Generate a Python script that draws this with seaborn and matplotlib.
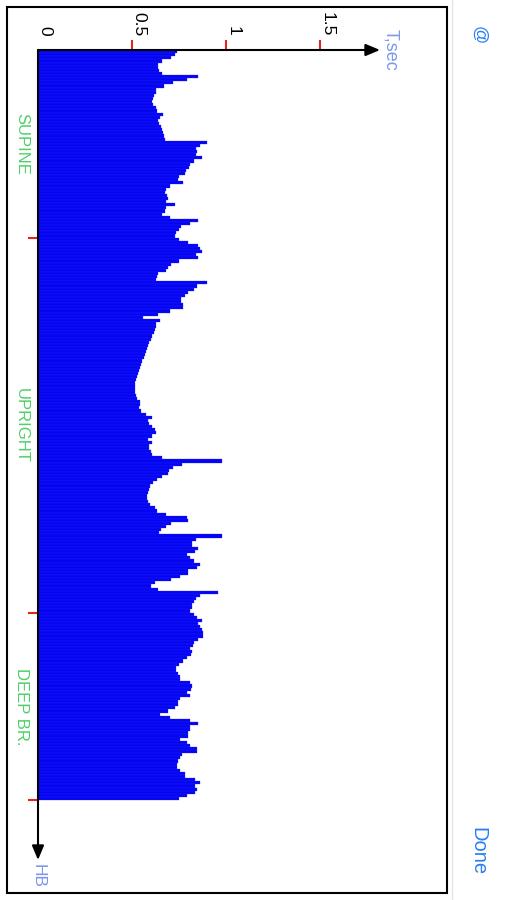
import numpy as np
import pandas as pd
import matplotlib
matplotlib.use("Agg")
import matplotlib.pyplot as plt
from matplotlib.patches import Rectangle
from matplotlib.lines import Line2D
import seaborn as sns

# RR intervals (sec) per heart beat
supine = [0.74, 0.73, 0.71, 0.66, 0.64, 0.64, 0.645, 0.66,
          0.85, 0.79, 0.72, 0.67, 0.63, 0.625, 0.615, 0.61,
          0.605, 0.61, 0.625, 0.635, 0.665, 0.65, 0.64, 0.645,
          0.655, 0.66, 0.665, 0.67, 0.675, 0.90, 0.86, 0.84,
          0.845, 0.84, 0.87, 0.83, 0.81, 0.805, 0.785, 0.78,
          0.75, 0.745, 0.77, 0.70, 0.68, 0.675, 0.685, 0.69,
          0.68, 0.73, 0.68, 0.675, 0.66, 0.70, 0.85, 0.81,
          0.76, 0.75, 0.735, 0.73]
upright = [0.75, 0.80, 0.85, 0.86,
           0.87, 0.84, 0.85, 0.75, 0.71, 0.69, 0.68, 0.64,
           0.635, 0.63, 0.90, 0.845, 0.83, 0.80, 0.78, 0.76,
           0.76, 0.77, 0.77, 0.70, 0.64, 0.56, 0.65, 0.63,
           0.63, 0.62, 0.615, 0.605, 0.60, 0.59, 0.585, 0.578,
           0.574, 0.57, 0.565, 0.555, 0.55, 0.542, 0.538, 0.53,
           0.525, 0.52, 0.516, 0.515, 0.515, 0.516, 0.52, 0.525,
           0.54, 0.54, 0.535, 0.55, 0.575, 0.605, 0.585, 0.59,
           0.605, 0.62, 0.63, 0.605, 0.585, 0.605, 0.59, 0.59,
           0.60, 0.605, 0.66, 0.98, 0.765, 0.72, 0.695, 0.69,
           0.66, 0.635, 0.61, 0.595, 0.59, 0.585, 0.58, 0.58,
           0.585, 0.595, 0.62, 0.635, 0.68, 0.79, 0.80, 0.705,
           0.68, 0.655, 0.645, 0.98, 0.84, 0.82, 0.82, 0.85,
           0.835, 0.79, 0.81, 0.83, 0.86, 0.845, 0.80, 0.80,
           0.755, 0.71, 0.62, 0.60, 0.64, 0.96, 0.86, 0.84,
           0.83, 0.82, 0.82, 0.81]
deep_br = [0.83, 0.845, 0.87, 0.85,
           0.86, 0.87, 0.88, 0.875, 0.85, 0.83, 0.825, 0.81,
           0.82, 0.815, 0.79, 0.77, 0.75, 0.735, 0.735, 0.745,
           0.755, 0.755, 0.81, 0.82, 0.815, 0.79, 0.81, 0.755,
           0.745, 0.745, 0.73, 0.69, 0.65, 0.70, 0.81, 0.85,
           0.81, 0.81, 0.80, 0.80, 0.755, 0.79, 0.81, 0.845,
           0.845, 0.765, 0.755, 0.745, 0.74, 0.74, 0.755, 0.78,
           0.78, 0.835, 0.86, 0.835, 0.845, 0.835, 0.79, 0.75]

phase_names = ["SUPINE", "UPRIGHT", "DEEP BR."]
t_ticks = [0, 0.5, 1, 1.5]
t_tick_labels = ["0", "0.5", "1", "1.5"]

phases = [supine, upright, deep_br]
rr = supine + upright + deep_br
df = pd.DataFrame({"hb": np.arange(len(rr)), "t": rr})

sns.set_style("white")
plt.rcParams["font.family"] = ["Liberation Sans", "DejaVu Sans"]

W, H = 507, 900
PT = 0.72  # points per pixel at 100 dpi
fig = plt.figure(figsize=(W / 100, H / 100), dpi=100)


def px_box(x0, y0, x1, y1):
    return [x0 / W, 1 - y1 / H, (x1 - x0) / W, (y1 - y0) / H]


# value axis: 0 at x=38px, 188 px per second; beat axis: 3.125 px per beat from y=50px
ax = fig.add_axes(px_box(38, 50, 380, 860))
sns.barplot(data=df, x="t", y="hb", orient="y", width=1.0, color="#0404f2",
            saturation=1, edgecolor="#2a2afc", linewidth=0.2, errorbar=None, ax=ax)

ax.set_xlim(0, (380 - 38) / 188)
ax.set_ylim(-0.5 + (860 - 50) / 3.125, -0.5)
ax.set_xlabel("")
ax.set_ylabel("")
for s in ax.spines.values():
    s.set_visible(False)

# red ticks
bounds = np.cumsum([len(p) for p in phases]) - 0.5
ax.xaxis.tick_top()
ax.set_xticks(t_ticks[1:])
ax.set_yticks(bounds)
ax.tick_params(axis="both", direction="out", length=10 * PT, width=1.5,
               color="#e3261c", labeltop=False, labelbottom=False, labelleft=False,
               top=True, bottom=False, left=True)

# axis lines with arrow heads
arrow = dict(arrowstyle="-|>,head_length=0.86,head_width=0.36", mutation_scale=10,
             color="black", lw=1.5, shrinkA=0, shrinkB=0)
ax.annotate("", xy=(1, 1), xytext=(0, 1), xycoords="axes fraction", arrowprops=arrow)
ax.annotate("", xy=(0, 0), xytext=(0, 1), xycoords="axes fraction", arrowprops=arrow)

# tick labels along the value axis
for v, lab in zip(t_ticks, t_tick_labels):
    ax.annotate(lab, xy=(v, 1), xycoords=("data", "axes fraction"),
                xytext=(7 * PT, 14 * PT), textcoords="offset points",
                rotation=-90, ha="center", va="bottom", fontsize=12.5, color="black")

ax.annotate("T,sec", xy=(1, 1), xycoords="axes fraction", xytext=(11 * PT, 0),
            textcoords="offset points", rotation=-90, ha="center", va="center",
            fontsize=13, color="#7b98ee")
ax.annotate("HB", xy=(0, 0), xycoords="axes fraction", xytext=(0, -4 * PT),
            textcoords="offset points", rotation=-90, ha="center", va="top",
            fontsize=12.5, color="#7b98ee")

# phase labels
starts = np.concatenate([[-0.5], bounds[:-1]])
for name, a, b in zip(phase_names, starts, bounds):
    ax.annotate(name, xy=(0, (a + b) / 2), xycoords=("axes fraction", "data"),
                xytext=(-16.5 * PT, 0), textcoords="offset points",
                rotation=-90, ha="center", va="center", fontsize=12, color="#4fcf68")

# frame and side buttons
fig.add_artist(Rectangle((7 / W, 1 - 893 / H), 440 / W, 886 / H, transform=fig.transFigure,
                         fill=False, lw=1.5, ec="black"))
fig.add_artist(Line2D([452 / W, 452 / W], [0, 1], transform=fig.transFigure,
                      color="#e4e4e4", lw=1))
fig.text(478 / W, 1 - 35 / H, "@", rotation=-90, ha="center", va="center",
         fontsize=13, color="#2a7ef5")
fig.text(478 / W, 1 - 851 / H, "Done", rotation=-90, ha="center", va="center",
         fontsize=14.5, color="#2a7ef5")

fig.savefig("out.png", dpi=100)
